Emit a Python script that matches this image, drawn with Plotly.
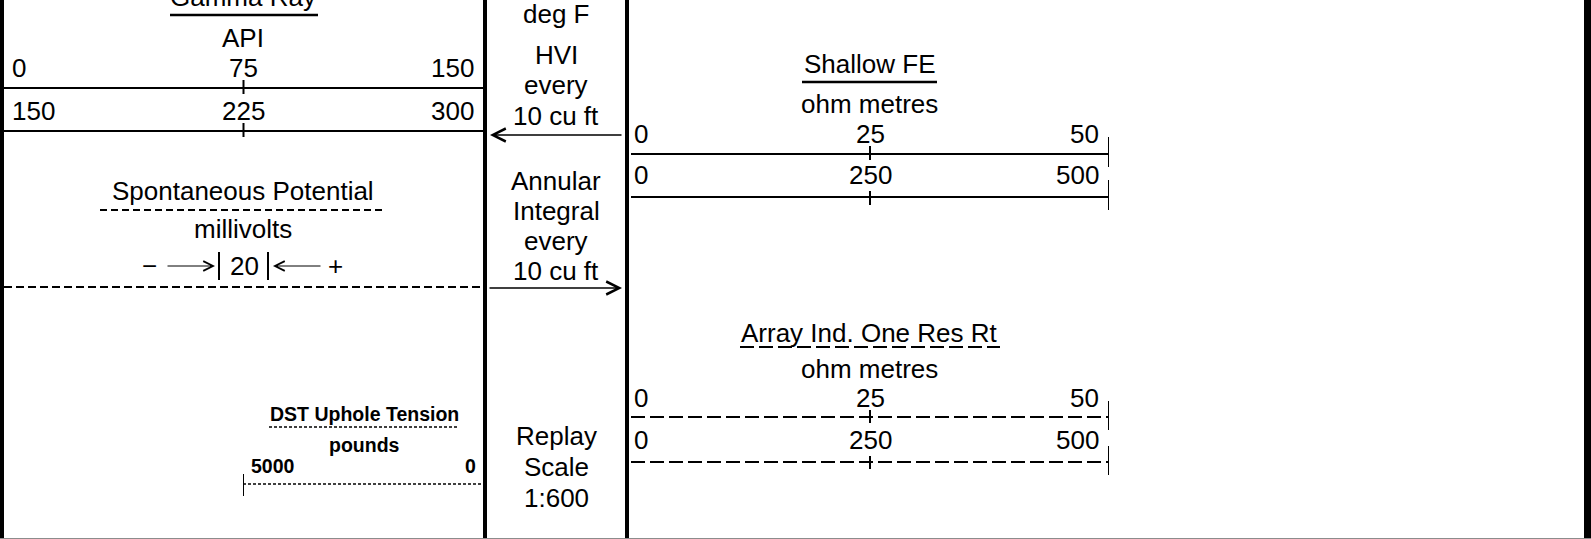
import plotly.graph_objects as go

W, H = 1591, 539

# ---------------- data (scale ranges and header text) ----------------
gr_scale = [0, 75, 150]
gr_backup_scale = [150, 225, 300]
sp_division = 20
dst_scale = [5000, 0]
sfe_scale = [0, 25, 50]
sfe_backup_scale = [0, 250, 500]
ait_scale = [0, 25, 50]
ait_backup_scale = [0, 250, 500]

gr_title, gr_unit = "Gamma Ray", "API"
sp_title, sp_unit = "Spontaneous Potential", "millivolts"
dst_title, dst_unit = "DST Uphole Tension", "pounds"
sfe_title, sfe_unit = "Shallow FE", "ohm metres"
ait_title, ait_unit = "Array Ind. One Res Rt", "ohm metres"
temp_unit = "deg F"
hvi_lines = ["HVI", "every", "10 cu ft"]
annular_lines = ["Annular", "Integral", "every", "10 cu ft"]
replay_lines = ["Replay", "Scale", "1:600"]

# ---------------- layout geometry (pixels) ----------------
FONT = "Liberation Sans, Arial, sans-serif"
FS = 26
BFS = 19.5
track1 = (4, 483)
dst_span = (243, 483)
track3 = (631, 1109)
col2_center = 556

def px(x):
    return x / W

def py(y):
    return 1 - y / H

fig = go.Figure()

axes = {}
def add_axis(name, rng, span):
    axes[name] = dict(domain=[px(span[0]), px(span[1])], range=rng,
                      visible=False, fixedrange=True, anchor="y")

add_axis("xaxis", [gr_scale[0], gr_scale[-1]], track1)
add_axis("xaxis2", [gr_backup_scale[0], gr_backup_scale[-1]], track1)
add_axis("xaxis3", [dst_scale[0], dst_scale[-1]], dst_span)
add_axis("xaxis4", [sfe_scale[0], sfe_scale[-1]], track3)
add_axis("xaxis5", [sfe_backup_scale[0], sfe_backup_scale[-1]], track3)
add_axis("xaxis6", [ait_scale[0], ait_scale[-1]], track3)
add_axis("xaxis7", [ait_backup_scale[0], ait_backup_scale[-1]], track3)

annotations = []
shapes = []

def text(t, x, y, xref="paper", size=FS, bold=False, xanchor="center",
         yanchor="middle", xshift=0):
    annotations.append(dict(
        text=t, x=x, y=y, xref=xref, yref="y", showarrow=False,
        xanchor=xanchor, yanchor=yanchor, xshift=xshift,
        font=dict(family=FONT, size=size, color="black",
                  weight="bold" if bold else "normal")))

def seg(x0, y0, x1, y1, width=2, dash="solid", color="black"):
    shapes.append(dict(type="line", xref="paper", yref="y",
                       x0=px(x0), y0=y0, x1=px(x1), y1=y1,
                       line=dict(color=color, width=width, dash=dash)))

def block(x0, y0, x1, y1, color="black"):
    shapes.append(dict(type="rect", xref="paper", yref="paper",
                       x0=px(x0), y0=py(y1), x1=px(x1), y1=py(y0),
                       fillcolor=color, line=dict(width=0), layer="above"))

def arrow(head_x, y, tail_dx, width=1.5, size=1.7):
    annotations.append(dict(
        text="", x=px(head_x), y=y, xref="paper", yref="y",
        ax=tail_dx, ay=0, showarrow=True, arrowhead=5,
        arrowwidth=width, arrowsize=size, arrowcolor="black"))

def scale(xref, values, line_y, label_y, dash="solid", tick=(-8, 6),
          end_bar=None, start_bar=None, pads=(6, 7), size=FS, bold=False,
          width=2):
    lo, hi = values[0], values[-1]
    fig.add_trace(go.Scatter(x=[lo, hi], y=[line_y, line_y], mode="lines",
                             line=dict(color="black", width=width, dash=dash),
                             xaxis=xref, yaxis="y", hoverinfo="skip"))
    if tick and len(values) == 3:
        mid = values[1]
        fig.add_trace(go.Scatter(x=[mid, mid],
                                 y=[line_y + tick[0], line_y + tick[1]],
                                 mode="lines", line=dict(color="black", width=2),
                                 xaxis=xref, yaxis="y", hoverinfo="skip"))
    if end_bar:
        fig.add_trace(go.Scatter(x=[hi, hi],
                                 y=[line_y + end_bar[0], line_y + end_bar[1]],
                                 mode="lines", line=dict(color="black", width=2),
                                 xaxis=xref, yaxis="y", hoverinfo="skip"))
    if start_bar:
        fig.add_trace(go.Scatter(x=[lo, lo],
                                 y=[line_y + start_bar[0], line_y + start_bar[1]],
                                 mode="lines", line=dict(color="black", width=2),
                                 xaxis=xref, yaxis="y", hoverinfo="skip"))
    n = len(values)
    for i, v in enumerate(values):
        if i == 0:
            xa, sh = "left", pads[0]
        elif i == n - 1:
            xa, sh = "right", -pads[1]
        else:
            xa, sh = "center", 0
        text(str(v), v, label_y, xref=xref, size=size, bold=bold,
             xanchor=xa, xshift=sh)

# ---------------- track 1 ----------------
text(gr_title, px(243), 14.5, yanchor="bottom")
seg(170, 15, 318, 15, width=2.5)
text(gr_unit, px(243), 38)
scale("x", gr_scale, 88, 68)
scale("x2", gr_backup_scale, 131, 111)

text(sp_title, px(243), 191)
seg(100, 210, 383, 210, width=2, dash="7px,4px")
text(sp_unit, px(243), 229)
sp_y = 266
text("\u2212", px(149), sp_y)
arrow(215, sp_y, -49, width=1, size=1.9)
seg(219, 252, 219, 280, width=2)
text(str(sp_division), px(244), sp_y)
seg(268, 252, 268, 280, width=2)
arrow(273, sp_y, 49, width=1, size=1.9)
text("+", px(335), sp_y)
seg(4, 287, 483, 287, width=2, dash="8px,4px")

text(dst_title, px(364), 414, size=BFS, bold=True)
seg(269, 427, 458, 427, width=1.5, dash="3px,2px")
text(dst_unit, px(364), 445, size=BFS, bold=True)
scale("x3", dst_scale, 484, 466, dash="3px,2px", tick=None,
      start_bar=(-10, 12), pads=(6, 5), size=BFS, bold=True, width=1.5)

# ---------------- track 2 ----------------
text(temp_unit, px(col2_center), 14)
for i, t in enumerate(hvi_lines):
    text(t, px(col2_center), 54.5 + 30.5 * i)
arrow(490, 135, 133)
for i, t in enumerate(annular_lines):
    text(t, px(col2_center), 180.5 + 30 * i)
arrow(622, 288, -134)
for i, t in enumerate(replay_lines):
    text(t, px(col2_center), 436 + 31 * i)

# ---------------- track 3 ----------------
text(sfe_title, px(870), 64)
seg(802, 82, 937, 82, width=2.5)
text(sfe_unit, px(870), 104)
scale("x4", sfe_scale, 154, 134, tick=(-8, 6), end_bar=(-17, 13), pads=(1, 8))
scale("x5", sfe_backup_scale, 197, 175, tick=(-6, 8), end_bar=(-17, 13), pads=(1, 8))

text(ait_title, px(870), 333)
seg(740, 347, 1000, 347, width=2, dash="14px,5px")
text(ait_unit, px(870), 369)
scale("x6", ait_scale, 417, 398, dash="14px,5px", tick=(-7, 6),
      end_bar=(-16, 13), pads=(1, 8))
scale("x7", ait_backup_scale, 462, 440, dash="14px,5px", tick=(-6, 7),
      end_bar=(-16, 13), pads=(1, 8))

# ---------------- frame ----------------
block(0, 0, 4, 538)
block(483, 0, 487, 538)
block(625, 0, 629, 538)
block(1584, 0, 1591, 538)
block(0, 538, W, H, color="#8c8c8c")

fig.update_layout(
    width=W, height=H, margin=dict(l=0, r=0, t=0, b=0),
    paper_bgcolor="white", plot_bgcolor="rgba(0,0,0,0)",
    showlegend=False, hovermode=False,
    yaxis=dict(range=[H, 0], domain=[0, 1], visible=False, fixedrange=True),
    annotations=annotations, shapes=shapes,
    **axes,
)

fig.write_html("out.html", config={"displayModeBar": False},
               post_script="document.body.style.margin='0';document.body.style.overflow='hidden';")
